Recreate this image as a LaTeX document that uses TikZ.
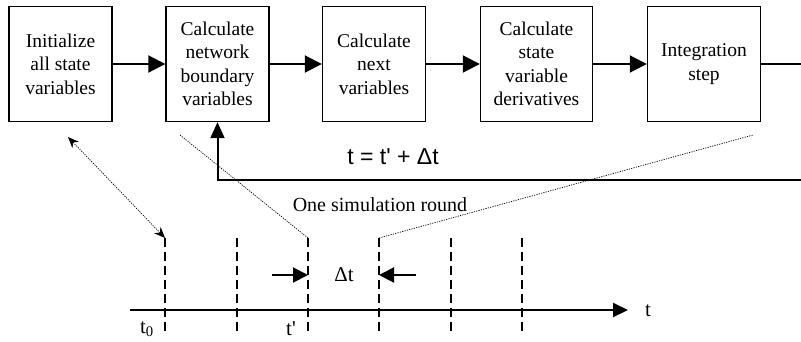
\documentclass[tikz,border=0pt]{standalone}
\usepackage{fontspec}
\setmainfont{Liberation Serif}
\newfontfamily\arialfont{Liberation Sans}
\usepackage{tikz}
\usetikzlibrary{arrows.meta}
\tikzstyle{box} = [draw, line width=1.4pt, minimum width=103pt, minimum height=115pt, inner sep=0pt, align=center, font=\fontsize{19.5}{23.5}\selectfont]
\tikzstyle{flow} = [-{Triangle[length=17pt,width=17pt]}, line width=2pt]
\tikzstyle{tickline} = [line width=1.5pt, dash pattern=on 9pt off 5pt]
\tikzstyle{hint} = [line width=0.7pt, dash pattern=on 1.2pt off 1.2pt]
\tikzstyle{lbl} = [inner sep=0pt, font=\fontsize{21}{24}\selectfont]

\begin{document}
\begin{tikzpicture}[x=1pt, y={(0pt,-1pt)}]
    \useasboundingbox (0,0) rectangle (801,341);
    % process boxes
    \node[box] (init) at (60.5,64) {Initialize\\all state\\variables};
    \node[box] (bound) at (217.5,64) {Calculate\\network\\boundary\\variables};
    \node[box] (next) at (374,64) {Calculate\\next\\variables};
    \node[box, minimum width=112pt] (deriv) at (536.5,64) {Calculate\\state\\variable\\derivatives};
    \node[box, minimum width=113pt] (integ) at (704,64) {Integration\\step};
    \draw[flow] (init.east) -- (bound.west);
    \draw[flow] (bound.east) -- (next.west);
    \draw[flow] (next.east) -- (deriv.west);
    \draw[flow] (deriv.east) -- (integ.west);
    \coordinate (outend) at (801,64);
    \draw[line width=2pt] (integ.east) -- (outend);

    % feedback
    \coordinate (fbin) at (801,180);
    \coordinate (fbturn) at (217.5,180);
    \draw[flow, -{Triangle[length=16pt,width=14pt]}] (fbin) -- (fbturn) -- (bound.south);
    \node[font=\arialfont\fontsize{23}{23}\selectfont] (update) at (393,157) {t = t\textquotesingle{} + Δt};
    \node[lbl, font=\fontsize{20}{24}\selectfont] (round) at (380,205) {One simulation round};

    % time axis
    \foreach \i/\x in {1/165,2/237,3/308,4/379,5/451,6/522} {
        \coordinate (top\i) at (\x,238);
        \coordinate (bot\i) at (\x,332);
        \draw[tickline] (top\i) -- (bot\i);
    }
    \coordinate (axstart) at (130,310);
    \coordinate (axend) at (628,310);
    \draw[flow, -{Triangle[length=15pt,width=14pt]}] (axstart) -- (axend);
    \node[lbl] (tlabel) at (648,311) {t};
    \node[lbl] (tzero) at (147,329) {t\textsubscript{0}};
    \node[lbl] (tprime) at (291,329) {t\textquotesingle};
    \node[lbl] (dt) at (344,275) {Δt};
    \coordinate (dtl) at (272,275);
    \coordinate (dtr) at (416,275);
    \draw[flow, -{Triangle[length=15pt,width=15pt]}] (dtl) -- (top3 |- dtl);
    \draw[flow, -{Triangle[length=15pt,width=15pt]}] (dtr) -- (top4 |- dtr);

    % dotted hints
    \coordinate (hintA) at (68,137);
    \coordinate (hintB) at (180,135);
    \coordinate (hintC) at (753,135);
    \draw[hint, {Stealth[length=11pt,width=9pt]}-{Stealth[length=11pt,width=9pt]}] (hintA) -- (top1);
    \draw[hint] (hintB) -- (top3);
    \draw[hint] (top4) -- (hintC);
\end{tikzpicture}
\end{document}
